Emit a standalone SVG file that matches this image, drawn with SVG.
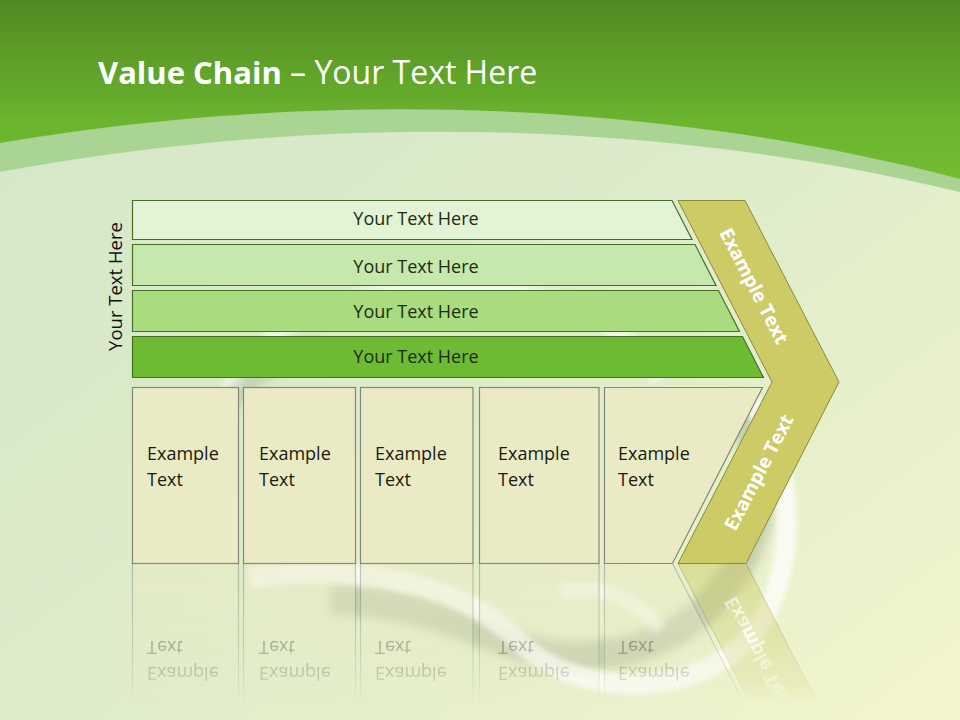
<svg xmlns="http://www.w3.org/2000/svg" xmlns:xlink="http://www.w3.org/1999/xlink" width="960" height="720" viewBox="0 0 960 720">
<defs>
<linearGradient id="bgLow" x1="0" y1="0" x2="1" y2="1">
<stop offset="0" stop-color="#D2E7C7"/>
<stop offset="0.45" stop-color="#DCEBCA"/>
<stop offset="0.8" stop-color="#EAF1CC"/>
<stop offset="1" stop-color="#F4F6CC"/>
</linearGradient>
<linearGradient id="hdr" x1="0" y1="0" x2="0" y2="200" gradientUnits="userSpaceOnUse">
<stop offset="0" stop-color="#518A22"/>
<stop offset="0.6" stop-color="#6AB42E"/>
<stop offset="1" stop-color="#74C032"/>
</linearGradient>
<linearGradient id="fade" x1="0" y1="563" x2="0" y2="705" gradientUnits="userSpaceOnUse">
<stop offset="0" stop-color="#fff" stop-opacity="0.5"/>
<stop offset="0.55" stop-color="#fff" stop-opacity="0.32"/>
<stop offset="0.85" stop-color="#fff" stop-opacity="0.14"/>
<stop offset="1" stop-color="#fff" stop-opacity="0"/>
</linearGradient>
<mask id="reflMask" maskUnits="userSpaceOnUse" x="0" y="563" width="960" height="157">
<rect x="0" y="563" width="960" height="157" fill="url(#fade)"/>
</mask>
<filter id="blur" x="-20%" y="-20%" width="140%" height="140%">
<feGaussianBlur stdDeviation="5"/>
</filter>
<filter id="blurS" x="-20%" y="-20%" width="140%" height="140%">
<feGaussianBlur stdDeviation="2.5"/>
</filter>
</defs>
<style>
.bar{stroke:#456F25;stroke-width:1.2}
.bartxt{font-family:"Open Sans","Liberation Sans",sans-serif;font-size:18px;fill:#1E2A14;text-anchor:middle}
.box{fill:#EAEAC4;stroke:#85867A;stroke-width:1.2}
.boxtxt{font-family:"Open Sans","Liberation Sans",sans-serif;font-size:18px;fill:#1A1A10}
.chev{fill:#CDCB66;stroke:#8A8A3A;stroke-width:1}
.chevtxt{font-family:"Open Sans","Liberation Sans",sans-serif;font-size:19px;font-weight:bold;fill:#FFFFFF;text-anchor:middle}
</style>

<g id="background">
<rect x="0" y="0" width="960" height="720" fill="url(#bgLow)"/>
<g id="swirl">
<path d="M 330,600 C 440,600 500,650 560,655 C 650,660 705,625 742,560 C 772,500 762,440 730,400" fill="none" stroke="#8E9A80" stroke-opacity="0.38" stroke-width="30" filter="url(#blur)"/>
<path d="M 250,578 C 380,560 470,592 520,642 C 575,700 720,705 768,610 C 800,540 790,450 745,395" fill="none" stroke="#FFFFFF" stroke-opacity="0.75" stroke-width="20" filter="url(#blurS)"/>
<path d="M 560,592 C 600,582 640,600 660,630" fill="none" stroke="#FFFFFF" stroke-opacity="0.55" stroke-width="14" filter="url(#blurS)"/>
<path d="M 215,440 C 230,330 330,285 470,288 C 560,290 620,320 660,380" fill="none" stroke="#FFFFFF" stroke-opacity="0.6" stroke-width="16" filter="url(#blurS)"/>
<path d="M 200,470 C 215,400 260,360 320,345" fill="none" stroke="#8E9A80" stroke-opacity="0.28" stroke-width="22" filter="url(#blur)"/>
</g>
<path d="M 0,0 H 960 V 192 C 600,105 250,125 0,172 Z" fill="#AAD492"/>
<path d="M 0,0 H 960 V 179 C 600,85 250,100 0,143 Z" fill="url(#hdr)"/>
</g>

<g id="title">
<text x="98" y="84" font-family="'Open Sans','Liberation Sans',sans-serif" font-size="32" fill="#FFFFFF"><tspan font-weight="bold" font-size="31">Value Chain</tspan> – Your Text Here</text>
</g>

<g id="side-label">
<text transform="translate(122,286.5) rotate(-90)" font-family="'Open Sans','Liberation Sans',sans-serif" font-size="18.5" fill="#111111" text-anchor="middle">Your Text Here</text>
</g>

<g id="bars">
<g id="bar1">
<polygon class="bar" points="132.5,200.5 672,200.5 692,239.5 132.5,239.5" fill="#E3F3D5"/>
<text class="bartxt" x="416" y="225">Your Text Here</text>
</g>
<g id="bar2">
<polygon class="bar" points="132.5,244.5 695,244.5 716,285.5 132.5,285.5" fill="#C6E8AD"/>
<text class="bartxt" x="416" y="272.5">Your Text Here</text>
</g>
<g id="bar3">
<polygon class="bar" points="132.5,290.5 718.5,290.5 739.5,331.5 132.5,331.5" fill="#A8DC7F"/>
<text class="bartxt" x="416" y="318">Your Text Here</text>
</g>
<g id="bar4">
<polygon class="bar" points="132.5,336.5 742.5,336.5 763.5,377.5 132.5,377.5" fill="#6DBB33"/>
<text class="bartxt" x="416" y="363">Your Text Here</text>
</g>
</g>

<g id="main">
<g id="chevron">
<polygon class="chev" points="678,200.5 745,200.5 839,382 746,563.5 678,563.5 772,382"/>
<text class="chevtxt" transform="translate(754,286) rotate(62.7)" y="6.5">Example Text</text>
<text class="chevtxt" transform="translate(759,472.5) rotate(-62.7)" y="6.5">Example Text</text>
</g>
<g id="boxes">
<g id="box1">
<rect class="box" x="132.5" y="387.5" width="106" height="176"/>
<text class="boxtxt" x="147" y="459.5">Example</text>
<text class="boxtxt" x="147" y="485.5">Text</text>
</g>
<g id="box2">
<rect class="box" x="243.5" y="387.5" width="112" height="176"/>
<text class="boxtxt" x="259" y="459.5">Example</text>
<text class="boxtxt" x="259" y="485.5">Text</text>
</g>
<g id="box3">
<rect class="box" x="360.5" y="387.5" width="112.5" height="176"/>
<text class="boxtxt" x="375" y="459.5">Example</text>
<text class="boxtxt" x="375" y="485.5">Text</text>
</g>
<g id="box4">
<rect class="box" x="479.5" y="387.5" width="119.5" height="176"/>
<text class="boxtxt" x="498" y="459.5">Example</text>
<text class="boxtxt" x="498" y="485.5">Text</text>
</g>
<g id="box5">
<polygon class="box" points="604.5,387.5 762.5,387.5 672.5,563.5 604.5,563.5"/>
<text class="boxtxt" x="618" y="459.5">Example</text>
<text class="boxtxt" x="618" y="485.5">Text</text>
</g>
</g>
</g>

<g id="reflection" mask="url(#reflMask)">
<g transform="matrix(1,0,0,-1,0,1127)">
<use xlink:href="#main"/>
</g>
</g>

<g id="connectors"/>
</svg>
